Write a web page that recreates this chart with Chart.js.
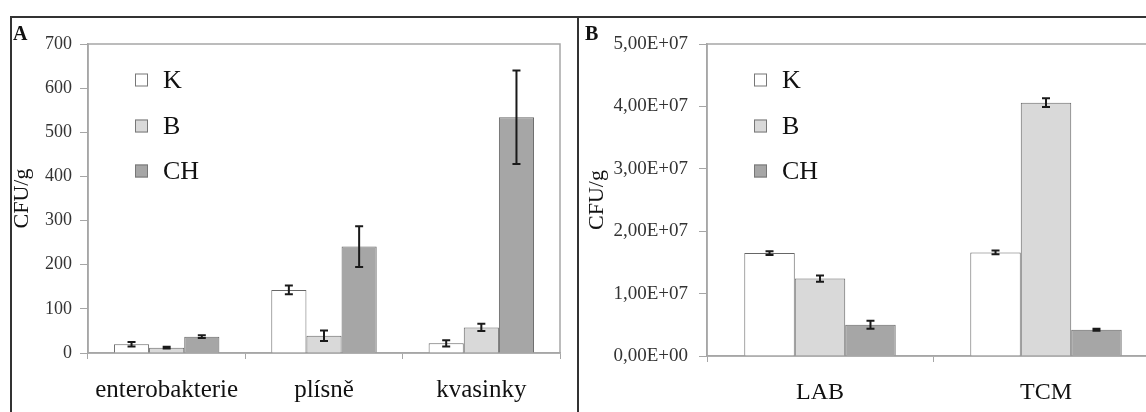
<!DOCTYPE html>
<html>
<head>
<meta charset="utf-8">
<script src="https://cdn.jsdelivr.net/npm/chart.js@4.4.1/dist/chart.umd.min.js"></script>
<style>
html, body { margin: 0; padding: 0; background: #fff; overflow: hidden; }
body { width: 1146px; height: 412px; position: relative; font-family: 'Liberation Serif', serif; }
.panel { position: absolute; top: 17px; height: 395px; }
#panelA { left: 10px; width: 567px; }
#panelB { left: 578px; width: 598px; }
.line { position: absolute; background: #333; z-index: 2; }
.tag { position: absolute; top: 22px; font: bold 20px 'Liberation Serif', serif; color: #111; z-index: 2; }
</style>
</head>
<body>
<div class="line" style="left:10px; top:16px; width:1136px; height:1.5px;"></div>
<div class="line" style="left:10px; top:16px; width:1.5px; height:396px;"></div>
<div class="line" style="left:577px; top:16px; width:1.5px; height:396px;"></div>
<span class="tag" style="left:13px;">A</span>
<span class="tag" style="left:585px;">B</span>
<div class="panel" id="panelA"><canvas id="chartA" width="567" height="395"></canvas></div>
<div class="panel" id="panelB"><canvas id="chartB" width="598" height="395"></canvas></div>
<script>
// Series names and colours
const seriesNames = ['K', 'B', 'CH'];
const seriesColors = ['#ffffff', '#d9d9d9', '#a6a6a6'];

// Panel A data
const categoriesA = ['enterobakterie', 'plísně', 'kvasinky'];
const kA = [20, 143, 22];
const bA = [12, 39, 58];
const chA = [37, 241, 534];
const kAErr = [5, 10, 7];
const bAErr = [2, 12, 8];
const chAErr = [3, 46, 106];
const yTicksA = [0, 100, 200, 300, 400, 500, 600, 700];

// Panel B data
const categoriesB = ['LAB', 'TCM'];
const kB = [1.65e7, 1.66e7];
const bB = [1.24e7, 4.06e7];
const chB = [0.50e7, 0.42e7];
const kBErr = [0.03e7, 0.03e7];
const bBErr = [0.05e7, 0.07e7];
const chBErr = [0.065e7, 0.015e7];
const yTicksB = [0, 1e7, 2e7, 3e7, 4e7, 5e7];

const serif = 'Liberation Serif';
const axisGray = '#a6a6a6';

// Excel style scientific label: 4,00E+07
function sciLabel(v) {
    const parts = Number(v).toExponential(2).split('e');
    const exp = parseInt(parts[1], 10);
    const expStr = (exp < 0 ? '-' : '+') + String(Math.abs(exp)).padStart(2, '0');
    return parts[0].replace('.', ',') + 'E' + expStr;
}

// Gray border around the plot area
const plotFrame = {
    id: 'plotFrame',
    beforeDatasetsDraw(chart) {
        const a = chart.chartArea;
        const c = chart.ctx;
        c.save();
        c.strokeStyle = axisGray;
        c.lineWidth = 1.5;
        c.strokeRect(a.left, a.top, a.right - a.left, a.bottom - a.top);
        c.restore();
    }
};

// Error bars from dataset.errors
const errorBars = {
    id: 'errorBars',
    afterDatasetsDraw(chart) {
        const c = chart.ctx;
        const y = chart.scales.y;
        c.save();
        c.strokeStyle = '#1a1a1a';
        c.lineWidth = 2;
        chart.data.datasets.forEach((ds, i) => {
            const meta = chart.getDatasetMeta(i);
            meta.data.forEach((bar, j) => {
                const top = y.getPixelForValue(ds.data[j] + ds.errors[j]);
                const bot = y.getPixelForValue(ds.data[j] - ds.errors[j]);
                c.beginPath();
                c.moveTo(bar.x, top); c.lineTo(bar.x, bot);
                c.moveTo(bar.x - 4, top); c.lineTo(bar.x + 4, top);
                c.moveTo(bar.x - 4, bot); c.lineTo(bar.x + 4, bot);
                c.stroke();
            });
        });
        c.restore();
    }
};

// Vertical legend inside the plot area
const innerLegend = {
    id: 'innerLegend',
    afterDraw(chart) {
        const a = chart.chartArea;
        const c = chart.ctx;
        const box = 13;
        const x0 = a.left + 47;
        const rows = [36, 82, 127];
        c.save();
        c.font = '26px ' + serif;
        c.textBaseline = 'middle';
        chart.data.datasets.forEach((ds, i) => {
            const cy = a.top + rows[i];
            c.fillStyle = ds.backgroundColor;
            c.fillRect(x0, cy - box / 2, box, box);
            c.strokeStyle = '#777';
            c.lineWidth = 1;
            c.strokeRect(x0 + 0.5, cy - box / 2 + 0.5, box - 1, box - 1);
            c.fillStyle = '#111';
            c.fillText(ds.label, x0 + 28, cy + 1);
        });
        c.restore();
    }
};

function makeDatasets(values, errors) {
    return values.map((vals, i) => ({
        label: seriesNames[i],
        data: vals,
        errors: errors[i],
        backgroundColor: seriesColors[i],
        borderColor: '#666',
        borderWidth: 1,
        categoryPercentage: 0.67,
        barPercentage: 1.0
    }));
}

function makeChart(id, labels, datasets, opts) {
    return new Chart(document.getElementById(id), {
        type: 'bar',
        data: { labels: labels, datasets: datasets },
        options: {
            responsive: false,
            animation: false,
            layout: { padding: { top: 27, right: 17, left: 0, bottom: 0 } },
            plugins: { legend: { display: false }, tooltip: { enabled: false } },
            scales: {
                x: {
                    grid: { drawOnChartArea: false, color: axisGray, tickLength: 6, offset: true },
                    border: { color: axisGray, width: 1.5 },
                    ticks: { color: '#111', font: { family: serif, size: opts.catSize }, padding: 16 },
                    afterFit: (s) => { s.height = opts.xHeight; }
                },
                y: {
                    min: 0,
                    max: opts.ticks[opts.ticks.length - 1],
                    afterBuildTicks: (s) => { s.ticks = opts.ticks.map(v => ({ value: v })); },
                    grid: { drawOnChartArea: false, color: axisGray, tickLength: 8 },
                    border: { color: axisGray, width: 1.5 },
                    ticks: {
                        color: '#333',
                        font: { family: serif, size: opts.tickSize },
                        padding: opts.tickPad,
                        callback: opts.fmt
                    },
                    title: {
                        display: true,
                        text: 'CFU/g',
                        color: '#111',
                        font: { family: serif, size: 22 },
                        padding: { top: opts.titlePad, bottom: 0 }
                    },
                    afterFit: (s) => { s.width = opts.yWidth; }
                }
            }
        },
        plugins: [plotFrame, errorBars, innerLegend]
    });
}

makeChart('chartA', categoriesA,
    makeDatasets([kA, bA, chA], [kAErr, bAErr, chAErr]),
    { ticks: yTicksA, xHeight: 59, yWidth: 78, tickSize: 18, tickPad: 8, titlePad: -1, catSize: 25, fmt: (v) => v });

makeChart('chartB', categoriesB,
    makeDatasets([kB, bB, chB], [kBErr, bBErr, chBErr]),
    { ticks: yTicksB, xHeight: 56, yWidth: 129, tickSize: 19, tickPad: 11, titlePad: 6, catSize: 24, fmt: sciLabel });
</script>
</body>
</html>
